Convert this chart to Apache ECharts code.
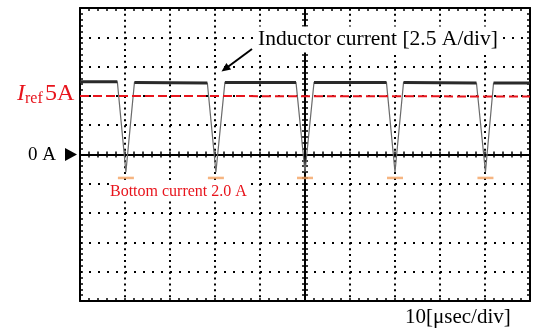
<!DOCTYPE html>
<html>
<head>
<meta charset="utf-8">
<script src="https://cdn.jsdelivr.net/npm/echarts@6.0.0/dist/echarts.min.js"></script>
<style>
html, body { margin: 0; padding: 0; background: #fff; }
#main { width: 533px; height: 329px; }
</style>
</head>
<body>
<div id="main"></div>
<script>
// scope trace: time in usec (10 usec/div), inductor current in A (2.5 A/div)
var waveT = [0, 8.3, 10.2, 12.1, 28.3, 30.2, 32.2, 48.0, 50.0, 52.0, 68.1, 70.0, 71.9, 88.1, 90.1, 91.9, 100];
var waveI = [6.2, 6.2, -1.5, 6.15, 6.1, -1.5, 6.15, 6.15, -1.5, 6.15, 6.15, -1.5, 6.15, 6.1, -1.5, 6.1, 6.1];

// bottom current markers
var botT = [10.2, 30.2, 50.0, 70.0, 90.1];
var botI = [-2.0, -2.0, -2.0, -2.0, -2.0];

// reference current line
var irefT = [0, 100];
var irefI = [5.0, 4.95];

var myChart = echarts.init(document.getElementById('main'));

var serif = "'Liberation Serif', 'Times New Roman', serif";

var trace = waveT.map(function (t, i) { return [t, waveI[i]]; });

// flat (noisy) top parts drawn thicker
var tops = [];
for (var i = 0; i < waveT.length - 1; i++) {
    if (waveI[i] > 5 && waveI[i + 1] > 5) {
        tops.push([waveT[i], waveI[i]], [waveT[i + 1], waveI[i + 1]], [waveT[i + 1], '-']);
    }
}

var tickStyle = { color: '#000', width: 1.5 };

function xAx(pos, offset, inside, split) {
    return {
        type: 'value', min: 0, max: 100, interval: 10,
        position: pos, offset: offset,
        axisLine: { onZero: false, lineStyle: { color: '#000', width: 2 } },
        axisTick: { show: true, inside: inside, length: 3, lineStyle: tickStyle },
        minorTick: { show: true, splitNumber: 5, length: 3, lineStyle: tickStyle },
        axisLabel: { show: false },
        splitLine: { show: split, lineStyle: { color: '#000', width: 2, type: [2, 3.86] } }
    };
}
function yAx(pos, offset, inside, split) {
    return {
        type: 'value', min: -12.5, max: 12.5, interval: 2.5,
        position: pos, offset: offset,
        axisLine: { onZero: false, lineStyle: { color: '#000', width: 2 } },
        axisTick: { show: true, inside: inside, length: 3, lineStyle: tickStyle },
        minorTick: { show: true, splitNumber: 5, length: 3, lineStyle: tickStyle },
        axisLabel: { show: false },
        splitLine: { show: split, lineStyle: { color: '#000', width: 2, type: [2, 7] } }
    };
}

option = {
    animation: false,
    backgroundColor: '#fff',
    grid: { left: 80, right: 3, top: 8, bottom: 28 },
    xAxis: [
        xAx('bottom', 0, true, true),
        xAx('top', 0, true, false),
        xAx('bottom', -146.5, true, false),
        xAx('bottom', -146.5, false, false)
    ],
    yAxis: [
        yAx('left', 0, true, true),
        yAx('right', 0, true, false),
        yAx('left', -225, true, false),
        yAx('left', -225, false, false)
    ],
    series: [{
        name: 'trace',
        type: 'line',
        data: trace,
        showSymbol: false,
        lineStyle: { color: '#6a6a6a', width: 1.2 },
        z: 3
    }, {
        name: 'tops',
        type: 'line',
        data: tops,
        showSymbol: false,
        connectNulls: false,
        lineStyle: { color: '#2a2a2a', width: 3 },
        z: 4
    }, {
        name: 'Iref',
        type: 'line',
        data: irefT.map(function (t, i) { return [t, irefI[i]]; }),
        showSymbol: false,
        lineStyle: { color: '#e8141c', width: 2, type: [9, 4] },
        z: 5
    }, {
        name: 'bottom',
        type: 'scatter',
        data: botT.map(function (t, i) { return [t, botI[i]]; }),
        symbol: 'rect',
        symbolSize: [16, 2.5],
        itemStyle: { color: '#f4a261' },
        z: 6
    }],
    graphic: [
        {
            type: 'text', z: 10,
            style: {
                x: 257, y: 39.4, text: 'Inductor current [2.5 A/div]',
                font: '21.5px ' + serif, fill: '#000',
                verticalAlign: 'middle', backgroundColor: '#fff', padding: [2, 1]
            }
        },
        { type: 'line', z: 10, shape: { x1: 252, y1: 49, x2: 227, y2: 67.5 }, style: { stroke: '#000', lineWidth: 2 } },
        { type: 'polygon', z: 10, shape: { points: [[221.5, 71.5], [231.1, 69.4], [226.4, 63.0]] }, style: { fill: '#000' } },
        { type: 'text', style: { x: 17, y: 94, text: 'I', font: 'italic 24px ' + serif, fill: '#e8141c', verticalAlign: 'middle' } },
        { type: 'text', style: { x: 25, y: 98.5, text: 'ref', font: '16px ' + serif, fill: '#e8141c', verticalAlign: 'middle' } },
        { type: 'text', style: { x: 45, y: 94, text: '5A', font: '24px ' + serif, fill: '#e8141c', verticalAlign: 'middle' } },
        { type: 'text', style: { x: 28, y: 155.5, text: '0 A', font: '19px ' + serif, fill: '#000', verticalAlign: 'middle' } },
        { type: 'polygon', shape: { points: [[65, 148], [77, 154.5], [65, 161]] }, style: { fill: '#000' } },
        {
            type: 'text', z: 10,
            style: {
                x: 109, y: 191.6, text: 'Bottom current 2.0 A',
                font: '16px ' + serif, fill: '#e8141c',
                verticalAlign: 'middle', backgroundColor: '#fff', padding: [1, 1]
            }
        },
        { type: 'text', style: { x: 405, y: 317, text: '10[\u03bcsec/div]', font: '21px ' + serif, fill: '#000', verticalAlign: 'middle' } }
    ]
};

myChart.setOption(option);
</script>
</body>
</html>
